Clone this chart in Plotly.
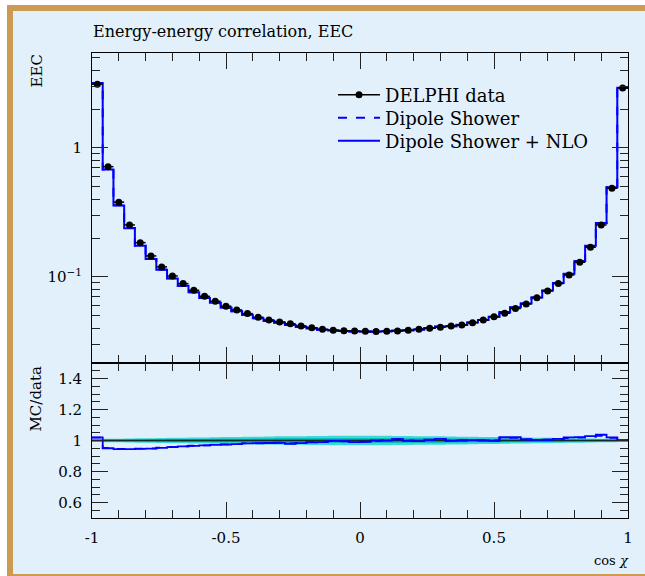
import plotly.graph_objects as go

# ---------------- data ----------------
bin_edges = [-1.0 + 0.04 * i for i in range(51)]
bin_centers = [round(-0.98 + 0.04 * i, 4) for i in range(50)]

delphi = [3.12, 0.716, 0.380, 0.253, 0.1845, 0.1455, 0.1197, 0.1018, 0.0888, 0.0788,
          0.0708, 0.0648, 0.0593, 0.0555, 0.0520, 0.0487, 0.0464, 0.0448, 0.0434, 0.0417,
          0.0404, 0.0393, 0.0386, 0.0383, 0.0381, 0.0379, 0.0377, 0.0379, 0.0381, 0.0386,
          0.0393, 0.0400, 0.0408, 0.0416, 0.0425, 0.0442, 0.0464, 0.0492, 0.0523, 0.0569,
          0.0618, 0.0691, 0.0779, 0.0888, 0.1036, 0.130, 0.170, 0.253, 0.487, 2.92]

# relative data uncertainties (outer = total, inner = stat)
err_total = [0.010, 0.011, 0.012, 0.013, 0.014, 0.015, 0.016, 0.017, 0.018, 0.019,
             0.020, 0.021, 0.022, 0.023, 0.024, 0.025, 0.026, 0.027, 0.028, 0.028,
             0.029, 0.029, 0.030, 0.030, 0.030, 0.030, 0.030, 0.030, 0.029, 0.029,
             0.028, 0.028, 0.027, 0.026, 0.025, 0.024, 0.023, 0.022, 0.021, 0.020,
             0.019, 0.018, 0.017, 0.016, 0.015, 0.014, 0.013, 0.012, 0.011, 0.010]
err_stat = [0.005, 0.006, 0.006, 0.007, 0.007, 0.008, 0.008, 0.009, 0.009, 0.010,
            0.010, 0.011, 0.011, 0.012, 0.012, 0.013, 0.013, 0.014, 0.014, 0.014,
            0.015, 0.015, 0.015, 0.015, 0.015, 0.015, 0.015, 0.015, 0.015, 0.015,
            0.014, 0.014, 0.014, 0.013, 0.013, 0.012, 0.012, 0.011, 0.011, 0.010,
            0.010, 0.009, 0.009, 0.008, 0.008, 0.007, 0.007, 0.006, 0.006, 0.005]

# MC / data ratios
ratio_shower = [1.018, 0.952, 0.946, 0.945, 0.947, 0.949, 0.954, 0.958, 0.963, 0.966,
                0.969, 0.972, 0.975, 0.978, 0.981, 0.982, 0.985, 0.986, 0.981, 0.985,
                0.989, 0.992, 0.996, 0.995, 0.992, 0.993, 0.998, 1.002, 1.008, 1.000,
                0.998, 1.004, 1.008, 0.999, 1.002, 1.004, 1.002, 1.000, 1.015, 1.017,
                1.006, 1.004, 1.005, 1.008, 1.016, 1.019, 1.024, 1.030, 1.017, 1.002]
ratio_nlo = [1.020, 0.950, 0.944, 0.944, 0.946, 0.947, 0.952, 0.957, 0.962, 0.965,
             0.968, 0.972, 0.974, 0.977, 0.981, 0.983, 0.984, 0.985, 0.979, 0.983,
             0.988, 0.990, 0.998, 0.996, 0.990, 0.991, 1.000, 1.000, 1.010, 0.998,
             0.996, 1.005, 1.010, 0.997, 1.000, 1.003, 1.000, 0.998, 1.021, 1.022,
             1.008, 1.004, 1.006, 1.010, 1.020, 1.022, 1.028, 1.037, 1.020, 1.003]

# tick labels
main_tickvals = [0.1, 1]
main_ticktext = ["10<sup>\u22121</sup>", "1"]
main_minor = [0.02, 0.03, 0.04, 0.05, 0.06, 0.07, 0.08, 0.09,
              0.2, 0.3, 0.4, 0.5, 0.6, 0.7, 0.8, 0.9, 2, 3, 4, 5]
ratio_tickvals = [0.6, 0.8, 1.0, 1.2, 1.4]
ratio_ticktext = ["0.6", "0.8", "1", "1.2", "1.4"]
x_tickvals = [-1, -0.5, 0, 0.5, 1]
x_ticktext = ["-1", "-0.5", "0", "0.5", "1"]

# ---------------- styling ----------------
FONT = "DejaVu Serif"
BG = "#E2F0FB"
TAN = "#CD9A52"
BLUE = "#0000FF"
W, H = 645, 576
L, R, T, B = 92, 17, 53, 58


def px2x(px):
    return (px - L) / (W - L - R)


def py2y(py):
    return (H - B - py) / (H - T - B)


def steps(vals):
    return list(vals) + [vals[-1]]


def prect(x0, x1, y0, y1, color):
    return dict(type="rect", xref="paper", yref="paper", layer="below",
                x0=px2x(x0), x1=px2x(x1), y0=py2y(y1), y1=py2y(y0),
                fillcolor=color, line=dict(width=0))


fig = go.Figure()

# ---- ratio panel: data uncertainty bands ----
lo_tot = [1 - e for e in err_total]
hi_tot = [1 + e for e in err_total]
lo_st = [1 - e for e in err_stat]
hi_st = [1 + e for e in err_stat]
fig.add_trace(go.Scatter(x=bin_edges, y=steps(lo_tot), mode="lines", line=dict(width=0, shape="hv"),
                         xaxis="x2", yaxis="y2", showlegend=False, hoverinfo="skip"))
fig.add_trace(go.Scatter(x=bin_edges, y=steps(hi_tot), mode="lines", line=dict(width=0, shape="hv"),
                         fill="tonexty", fillcolor="#3DD8D8", xaxis="x2", yaxis="y2",
                         showlegend=False, hoverinfo="skip"))
fig.add_trace(go.Scatter(x=bin_edges, y=steps(lo_st), mode="lines", line=dict(width=0, shape="hv"),
                         xaxis="x2", yaxis="y2", showlegend=False, hoverinfo="skip"))
fig.add_trace(go.Scatter(x=bin_edges, y=steps(hi_st), mode="lines", line=dict(width=0, shape="hv"),
                         fill="tonexty", fillcolor="#00B4B4", xaxis="x2", yaxis="y2",
                         showlegend=False, hoverinfo="skip"))
fig.add_trace(go.Scatter(x=bin_edges, y=steps([d / d for d in delphi]), mode="lines",
                         line=dict(color="#0B2E22", width=1.5, shape="hv"),
                         xaxis="x2", yaxis="y2", showlegend=False, hoverinfo="skip"))
fig.add_trace(go.Scatter(x=bin_edges, y=steps(ratio_shower), mode="lines",
                         line=dict(color=BLUE, width=1.8, shape="hv", dash="dash"),
                         xaxis="x2", yaxis="y2", showlegend=False))
fig.add_trace(go.Scatter(x=bin_edges, y=steps(ratio_nlo), mode="lines",
                         line=dict(color=BLUE, width=1.8, shape="hv"),
                         xaxis="x2", yaxis="y2", showlegend=False))

# ---- main panel ----
mc_shower = [d * r for d, r in zip(delphi, ratio_shower)]
mc_nlo = [d * r for d, r in zip(delphi, ratio_nlo)]

fig.add_trace(go.Scatter(x=[None], y=[None], mode="lines+markers", name="DELPHI data",
                         legend="legend",
                         line=dict(color="black", width=1.5), marker=dict(color="black", size=7)))
fig.add_trace(go.Scatter(x=bin_edges, y=steps(mc_shower), mode="lines", name="Dipole Shower",
                         legend="legend2",
                         line=dict(color=BLUE, width=2, shape="hv", dash="dash")))
fig.add_trace(go.Scatter(x=bin_edges, y=steps(mc_nlo), mode="lines", name="Dipole Shower + NLO",
                         legend="legend3",
                         line=dict(color=BLUE, width=2, shape="hv")))
fig.add_trace(go.Scatter(x=bin_centers, y=delphi, mode="markers", showlegend=False,
                         marker=dict(color="black", size=7),
                         error_x=dict(type="constant", value=0.02, width=0, thickness=1.5, color="black"),
                         error_y=dict(type="percent", value=1.5, width=0, thickness=1.5, color="black")))

axis_common = dict(showline=True, linecolor="black", linewidth=1, mirror="allticks",
                   ticks="inside", tickcolor="#222", tickwidth=1, showgrid=False, zeroline=False,
                   tickfont=dict(family=FONT, size=15, color="black"))


def legend_box(py):
    return dict(x=px2x(333), y=py2y(py), xanchor="left", yanchor="middle",
                bgcolor="rgba(0,0,0,0)", borderwidth=0, itemwidth=42, traceorder="normal",
                font=dict(family=FONT, size=18, color="black"))


fig.update_layout(
    width=W, height=H,
    margin=dict(l=L, r=R, t=T, b=B),
    paper_bgcolor=BG, plot_bgcolor=BG,
    font=dict(family=FONT, size=15, color="black"),
    xaxis=dict(domain=[0, 1], anchor="y", range=[-1, 1], matches="x2", showticklabels=False,
               tickmode="array", tickvals=x_tickvals, ticklen=16,
               minor=dict(tickmode="linear", tick0=-1, dtick=0.1, ticklen=8, ticks="inside",
                          tickcolor="#222", tickwidth=1, showgrid=False),
               **axis_common),
    yaxis=dict(domain=[1 / 3, 1], anchor="x", type="log", range=[-1.667, 0.736],
               tickmode="array", tickvals=main_tickvals, ticktext=main_ticktext, ticklen=16,
               ticklabelstandoff=6,
               minor=dict(tickmode="array", tickvals=main_minor, ticklen=8, ticks="inside",
                          tickcolor="#222", tickwidth=1, showgrid=False),
               **axis_common),
    xaxis2=dict(domain=[0, 1], anchor="y2", range=[-1, 1],
                tickmode="array", tickvals=x_tickvals, ticktext=x_ticktext, ticklen=16,
                ticklabelstandoff=6,
                minor=dict(tickmode="linear", tick0=-1, dtick=0.1, ticklen=8, ticks="inside",
                           tickcolor="#222", tickwidth=1, showgrid=False),
                **axis_common),
    yaxis2=dict(domain=[0, 1 / 3], anchor="x2", range=[0.5, 1.5],
                tickmode="array", tickvals=ratio_tickvals, ticktext=ratio_ticktext, ticklen=16,
                ticklabelstandoff=6,
                minor=dict(tickmode="linear", tick0=0.5, dtick=0.05, ticklen=8, ticks="inside",
                           tickcolor="#222", tickwidth=1, showgrid=False),
                **axis_common),
    legend=legend_box(95),
    legend2=legend_box(118),
    legend3=legend_box(141),
    shapes=[
        prect(0, 7, 0, 576, "white"),
        prect(0, 645, 0, 5, "white"),
        prect(7, 13, 5, 576, TAN),
        prect(7, 645, 5, 11, TAN),
        prect(7, 645, 574, 576, TAN),
    ],
    annotations=[
        dict(text="Energy-energy correlation, EEC", xref="paper", yref="paper",
             x=px2x(91), y=py2y(32), xanchor="left", yanchor="middle", showarrow=False,
             font=dict(family=FONT, size=16, color="black")),
        dict(text="EEC", xref="paper", yref="paper", x=px2x(36), y=py2y(53),
             xanchor="center", yanchor="top", textangle=-90, showarrow=False,
             font=dict(family=FONT, size=15, color="black")),
        dict(text="MC/data", xref="paper", yref="paper", x=px2x(36), y=py2y(365),
             xanchor="center", yanchor="top", textangle=-90, showarrow=False,
             font=dict(family=FONT, size=15, color="black")),
        dict(text="cos <i>\u03c7</i>", xref="paper", yref="paper", x=px2x(631), y=py2y(560),
             xanchor="right", yanchor="middle", showarrow=False,
             font=dict(family=FONT, size=13, color="black")),
    ],
)

fig.write_html("out.html", config={"displayModeBar": False},
               post_script="document.body.style.margin='0';")
